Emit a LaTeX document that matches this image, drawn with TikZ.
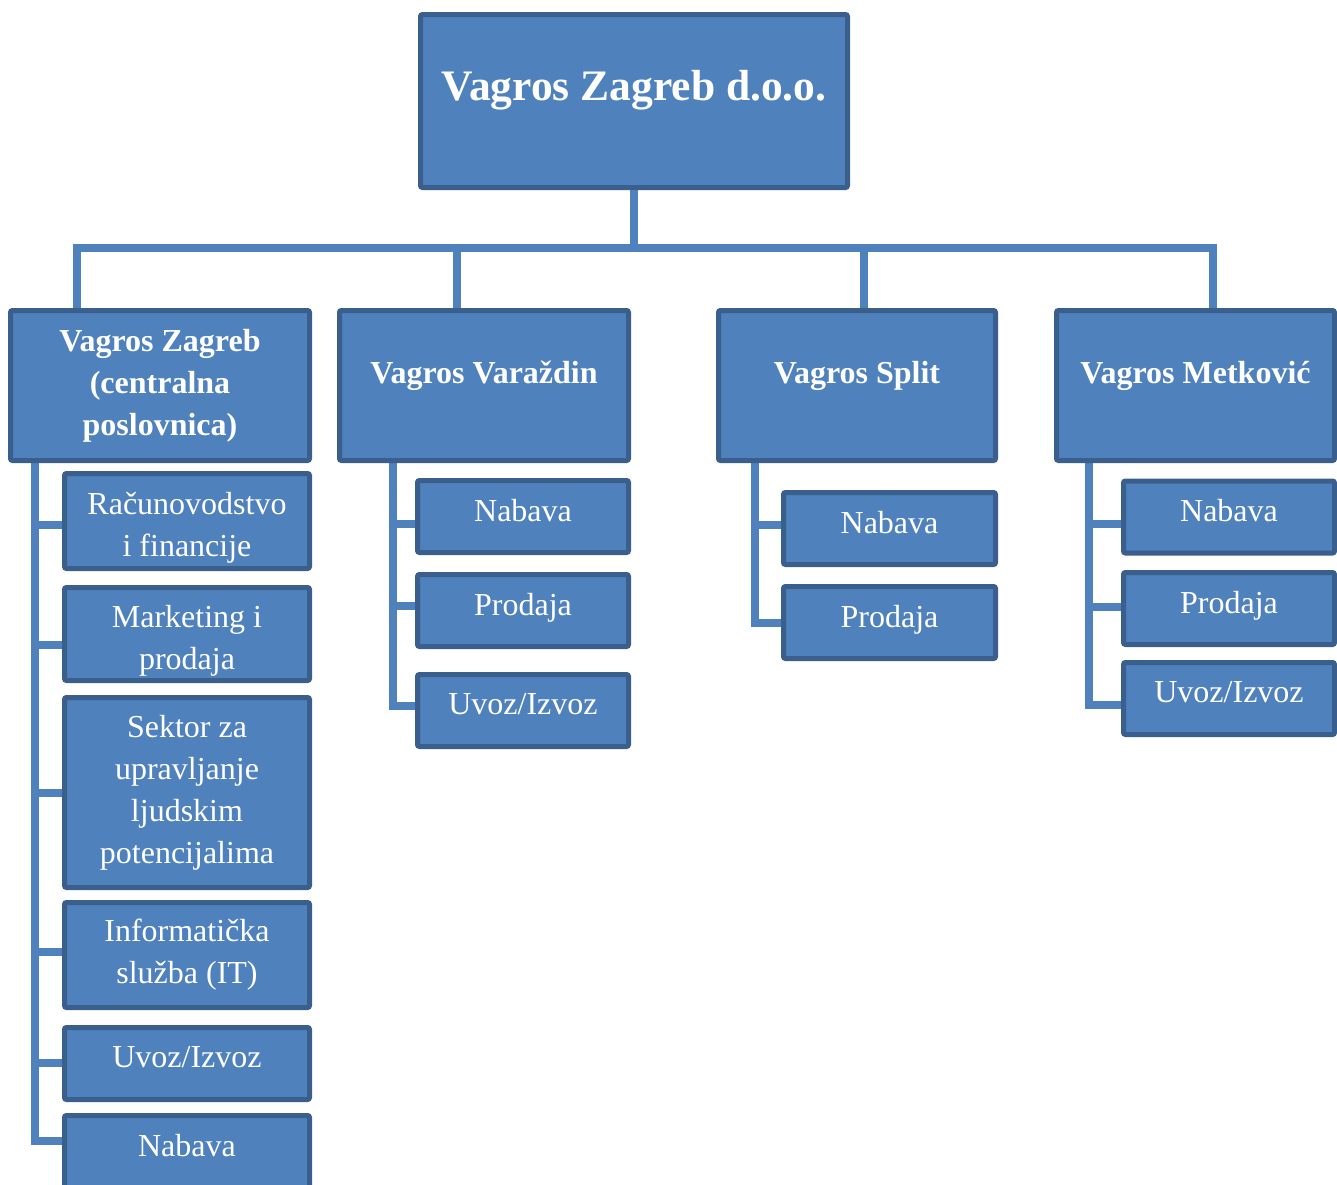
\documentclass[tikz,border=0pt]{standalone}
\usepackage{fontspec}
\setmainfont{Liberation Serif}
\usetikzlibrary{positioning, backgrounds}

\definecolor{unitfill}{HTML}{4F81BD}
\definecolor{unitline}{HTML}{3A5F8C}

\begin{document}
\begin{tikzpicture}[x=1pt, y=-1pt,
    unit/.style={rectangle, draw=unitline, fill=unitfill, line width=5pt, rounded corners=2pt, inner sep=0pt, text=white, align=center},
    head/.style={unit, minimum height=150pt, font=\bfseries\fontsize{32}{42}\selectfont},
    dept/.style={unit, minimum width=211pt, minimum height=72pt, font=\fontsize{32}{42}\selectfont},
    lift/.style={text depth=#1},
    link/.style={draw=unitfill, line width=8pt}
]
\useasboundingbox (0,0) rectangle (1337,1184);

% top
\node[unit, minimum width=427pt, minimum height=173pt, font=\bfseries\fontsize{43.5}{50}\selectfont, lift=32pt] (firm) at (634,101) {Vagros Zagreb d.o.o.};

% branches
\node[head, minimum width=299pt] (zagreb) at (160,385.5) {Vagros Zagreb\\(centralna\\poslovnica)};
\node[head, minimum width=289pt, lift=27pt] (varazdin) at (484,385.5) {Vagros Varaždin};
\node[head, minimum width=277pt, lift=27pt] (split) at (857,385.5) {Vagros Split};
\node[head, minimum width=278pt, lift=27pt] (metkovic) at (1195.5,385.5) {Vagros Metković};

% Zagreb
\node[dept, minimum width=245pt, minimum height=95pt] (zg-fin) at (187,521) {\rule{0pt}{35pt}Računovodstvo\\i financije};
\node[dept, minimum width=245pt, minimum height=93pt] (zg-mkt) at (187,634) {\rule{0pt}{35pt}Marketing i\\prodaja};
\node[dept, minimum width=245pt, minimum height=190pt] (zg-hr) at (187,792.5) {Sektor za\\upravljanje\\ljudskim\\potencijalima};
\node[dept, minimum width=245pt, minimum height=105pt] (zg-it) at (187,955) {Informatička\\služba (IT)};
\node[dept, minimum width=245pt, lift=13pt] (zg-uvoz) at (187,1063.5) {Uvoz/Izvoz};
\node[dept, minimum width=245pt, lift=13pt] (zg-nab) at (187,1151.5) {Nabava};

% Varazdin
\node[dept, lift=13pt] (vz-nab) at (523,516.5) {Nabava};
\node[dept, lift=13pt] (vz-pro) at (523,610.5) {Prodaja};
\node[dept, lift=13pt] (vz-uvoz) at (523,710.5) {Uvoz/Izvoz};

% Split
\node[dept, minimum width=212pt, lift=13pt] (st-nab) at (889.5,528.5) {Nabava};
\node[dept, minimum width=212pt, lift=13pt] (st-pro) at (889.5,622.5) {Prodaja};

% Metkovic
\node[dept, lift=13pt] (mk-nab) at (1229,517) {Nabava};
\node[dept, lift=13pt] (mk-pro) at (1229,608.5) {Prodaja};
\node[dept, lift=13pt] (mk-uvoz) at (1229,698.5) {Uvoz/Izvoz};

\begin{pgfonlayer}{background}
\coordinate (bus) at (631,248);
\coordinate (d-zg) at (77,248);
\coordinate (d-vz) at (457,248);
\coordinate (d-st) at (864,248);
\coordinate (d-mk) at (1213,248);

\draw[link] (firm.south) -- (firm.south |- bus);
\draw[link] (d-zg |- zagreb.north) -- (d-zg) -- (d-mk) -- (d-mk |- metkovic.north);
\draw[link] (d-vz) -- (d-vz |- varazdin.north);
\draw[link] (d-st) -- (d-st |- split.north);

% stubs, shifted a little off the box middle
\foreach \d/\s in {zg-fin/-4, zg-mkt/-11, zg-hr/0, zg-it/3, zg-uvoz/1, zg-nab/11}
  \draw[link] ([xshift=27pt]zagreb.south west) |- ([yshift=\s pt]\d.west);
\foreach \d/\s in {vz-nab/-7.5, vz-pro/4.5, vz-uvoz/4.5}
  \draw[link] ([xshift=56pt]varazdin.south west) |- ([yshift=\s pt]\d.west);
\foreach \d/\s in {st-nab/3.5, st-pro/0}
  \draw[link] ([xshift=39pt]split.south west) |- ([yshift=\s pt]\d.west);
\foreach \d/\s in {mk-nab/-7, mk-pro/1.5, mk-uvoz/-6.5}
  \draw[link] ([xshift=35pt]metkovic.south west) |- ([yshift=\s pt]\d.west);
\end{pgfonlayer}

\end{tikzpicture}
\end{document}
